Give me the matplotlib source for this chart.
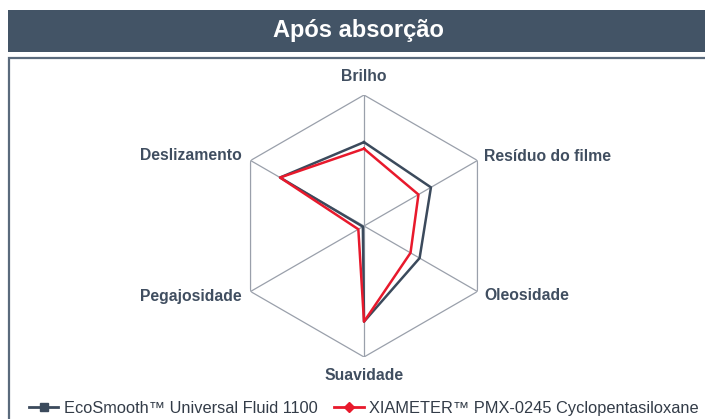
import numpy as np
import matplotlib.pyplot as plt
from matplotlib.patches import Rectangle
from matplotlib.lines import Line2D

plt.rcParams['font.family'] = ['Liberation Sans', 'DejaVu Sans']

categories = ['Brilho', 'Resíduo do filme', 'Oleosidade', 'Suavidade', 'Pegajosidade', 'Deslizamento']
ecosmooth = [6.4, 5.9, 4.9, 7.3, 0.1, 7.4]
xiameter = [5.9, 4.8, 4.1, 7.3, 0.5, 7.4]
series_names = ['EcoSmooth™ Universal Fluid 1100', 'XIAMETER™ PMX-0245 Cyclopentasiloxane']

dark = '#3b4a5c'
red = '#e8192c'
label_col = '#404e60'

fig = plt.figure(figsize=(7.05, 4.19), dpi=100)
W, H = 705, 419

# title bar and chart frame
fig.patches.append(Rectangle((8 / W, 1 - 52 / H), 1, 42 / H, transform=fig.transFigure,
                             facecolor='#435466', edgecolor='none'))
fig.text(358 / W, 1 - 31 / H, 'Após absorção', color='white', fontsize=17,
         fontweight='bold', ha='center', va='center')
fig.patches.append(Rectangle((8.5 / W, -0.05), 1, 1 - 58.5 / H + 0.05, transform=fig.transFigure,
                             facecolor='none', edgecolor='#5a6a7c', linewidth=1.6))

cx, cy, rad = 364, 226, 131
ax = fig.add_axes([(cx - rad) / W, 1 - (cy + rad) / H, 2 * rad / W, 2 * rad / H], projection='polar')
ax.set_theta_offset(np.pi / 2)
ax.set_theta_direction(-1)
ax.set_ylim(0, 10)
ax.axis('off')

n = len(categories)
ang = np.linspace(0, 2 * np.pi, n, endpoint=False)
ang_c = np.append(ang, ang[0])

# hexagon + spokes
ax.plot(ang_c, [10] * (n + 1), color='#9aa0ab', lw=0.9, zorder=1)
for a in ang:
    ax.plot([a, a], [0, 10], color='#9aa0ab', lw=0.9, zorder=1)

ax.plot(ang_c, ecosmooth + ecosmooth[:1], color=dark, lw=1.8, zorder=3)
ax.plot(ang_c, xiameter + xiameter[:1], color=red, lw=1.8, zorder=4)

align = [('center', 'center', 11.4), ('left', 'center', 10.6), ('left', 'center', 10.6),
         ('center', 'center', 11.4), ('right', 'center', 10.75), ('right', 'center', 10.75)]
for a, lab, (ha, va, r) in zip(ang, categories, align):
    ax.text(a, r, lab, ha=ha, va=va, fontsize=11.3, fontweight='bold', color=label_col)

handles = [Line2D([], [], color=dark, lw=2, marker='s', markersize=6),
           Line2D([], [], color=red, lw=2, marker='D', markersize=5)]
fig.legend(handles, series_names, loc='center', bbox_to_anchor=(364 / W, 1 - 408 / H),
           ncol=2, frameon=False, fontsize=11.8, handlelength=1.8, handletextpad=0.35,
           columnspacing=1.0, labelcolor='#333c48', borderpad=0, borderaxespad=0)

fig.savefig('out.png', dpi=100)
